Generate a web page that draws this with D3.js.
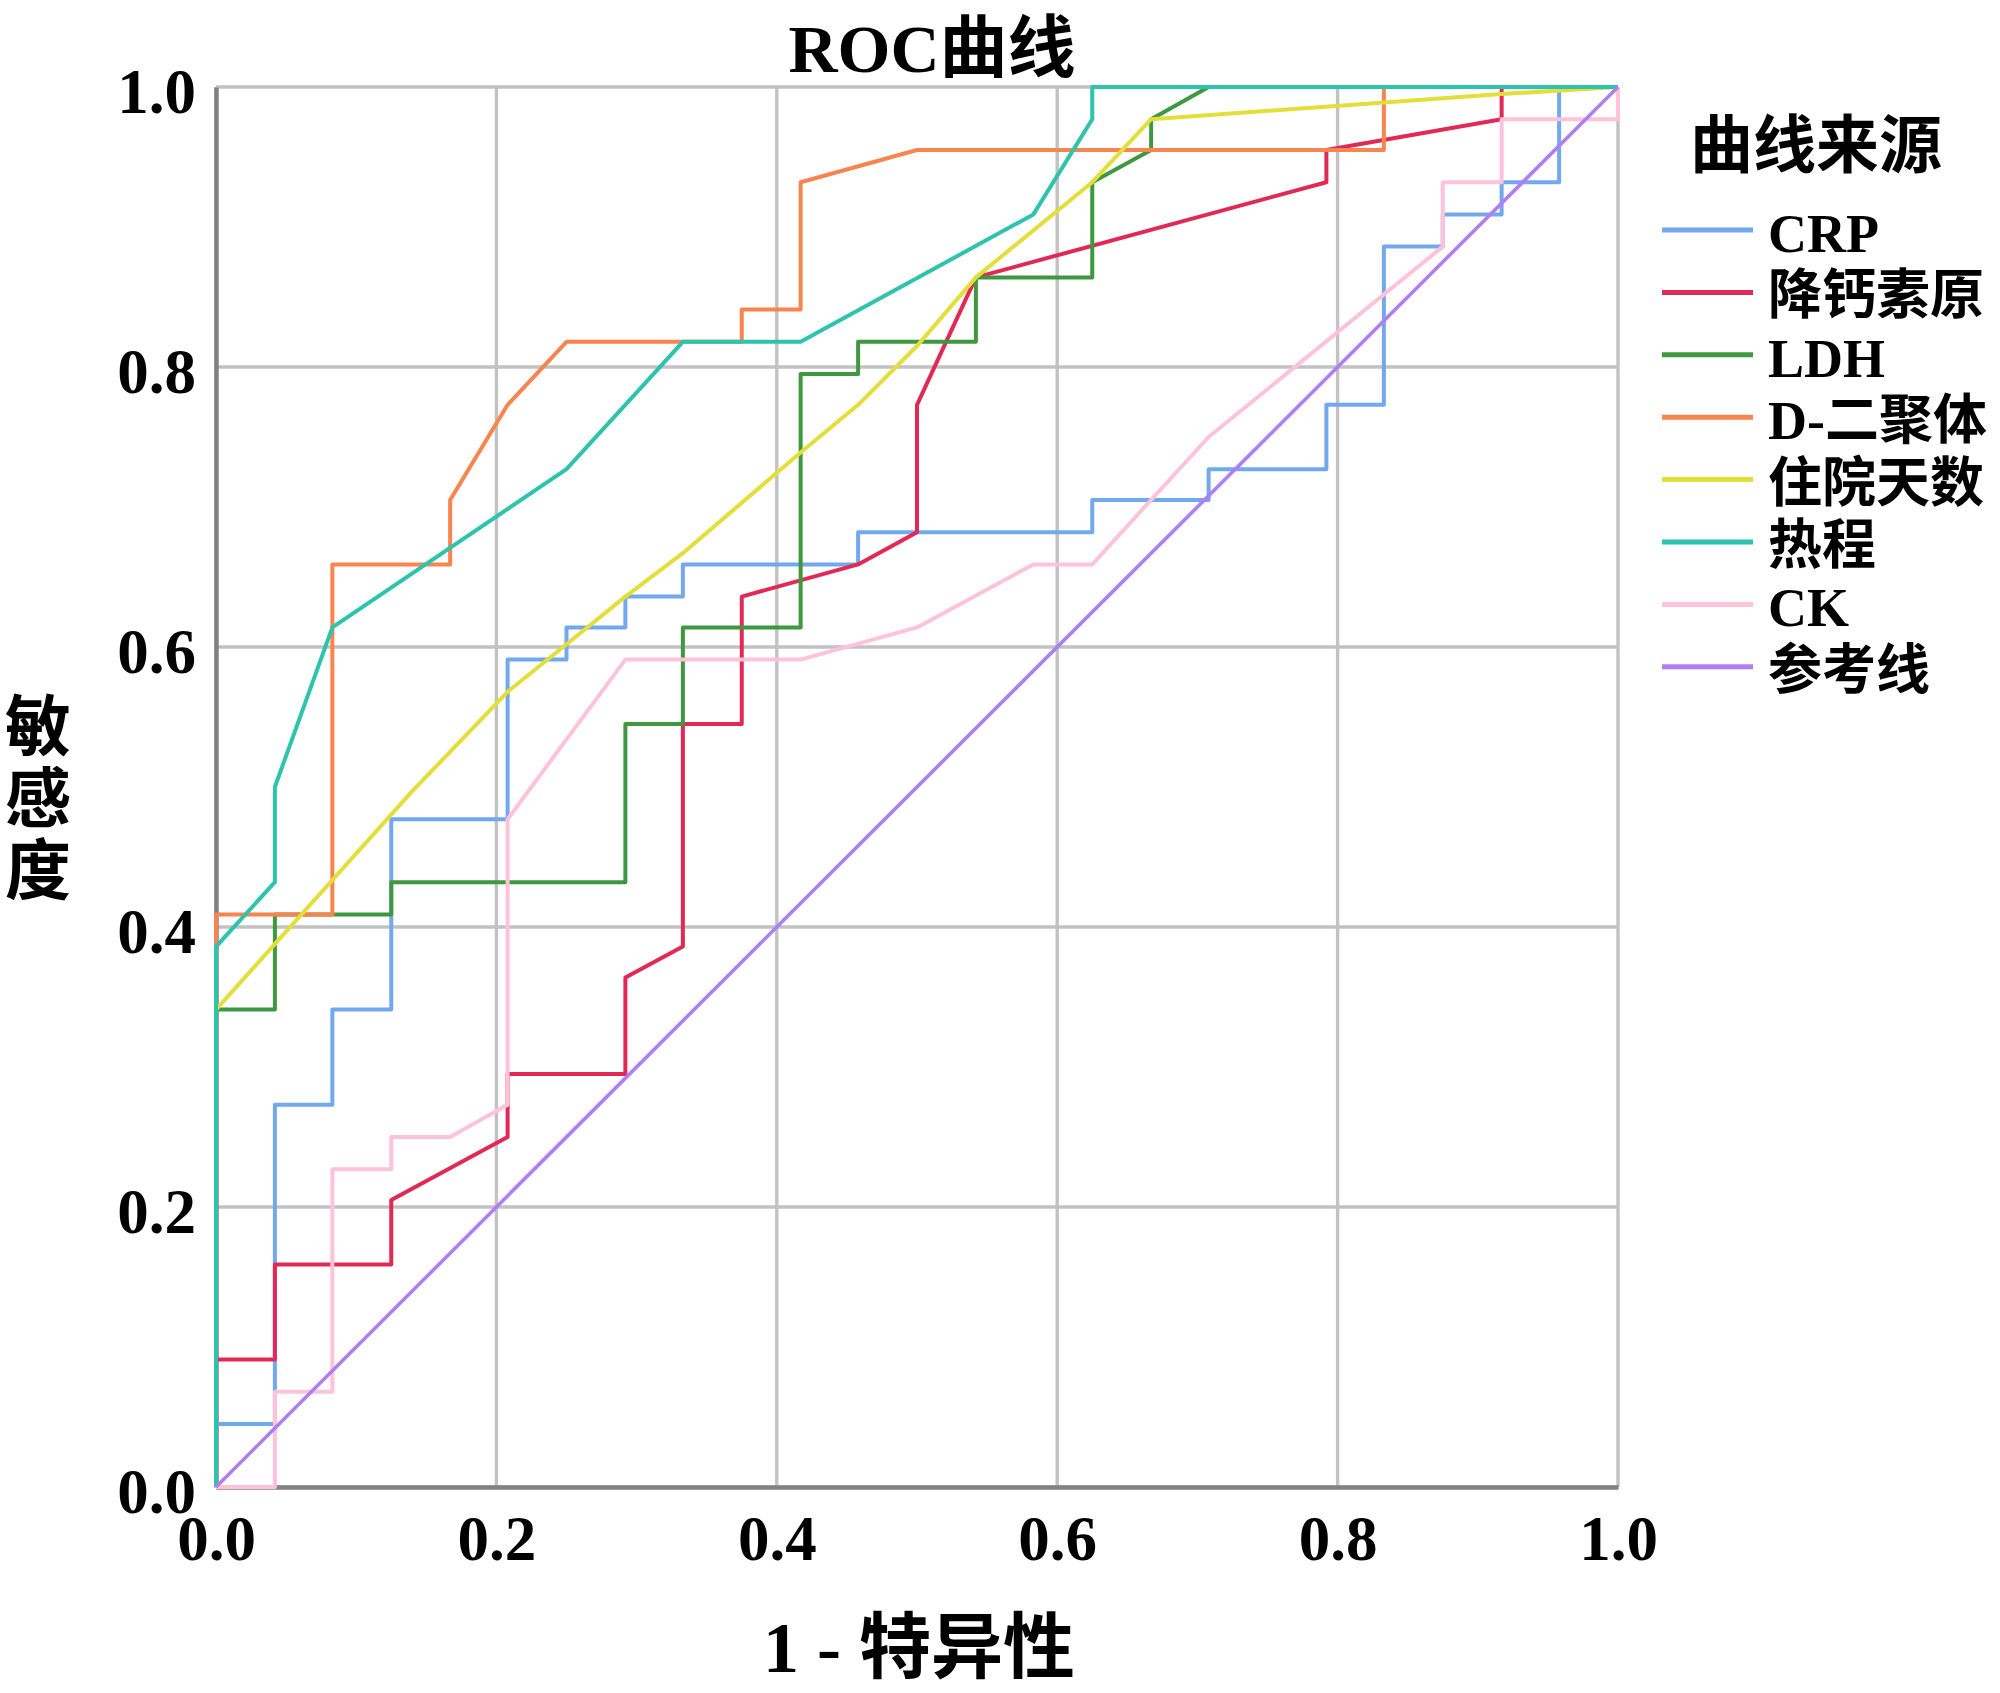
<!DOCTYPE html>
<html>
<head>
<meta charset="utf-8">
<script src="https://cdn.jsdelivr.net/npm/d3@7/dist/d3.min.js"></script>
<style>
  html, body { margin: 0; padding: 0; background: #fff; }
  svg { display: block; }
  text { font-family: 'Liberation Serif', 'Times New Roman', 'Noto Sans CJK SC', serif; font-weight: bold; fill: #000; }
</style>
</head>
<body>
<script>
// ---------------- data (1 - specificity, sensitivity) ----------------
const seriesNames = ["CRP", "降钙素原", "LDH", "D-二聚体", "住院天数", "热程", "CK", "参考线"];
const seriesColors = ["#72a8ee", "#e02a55", "#3f983f", "#f8844f", "#e3de3a", "#2ec3ac", "#ffc3d9", "#b07ef4"];

const crpPoints = [[0,0],[0,0.045],[0.042,0.045],[0.042,0.273],[0.083,0.273],[0.083,0.341],[0.125,0.341],[0.125,0.477],[0.208,0.477],[0.208,0.591],[0.25,0.591],[0.25,0.614],[0.292,0.614],[0.292,0.636],[0.333,0.636],[0.333,0.659],[0.458,0.659],[0.458,0.682],[0.625,0.682],[0.625,0.705],[0.708,0.705],[0.708,0.727],[0.792,0.727],[0.792,0.773],[0.833,0.773],[0.833,0.886],[0.875,0.886],[0.875,0.909],[0.917,0.909],[0.917,0.932],[0.958,0.932],[0.958,1],[1,1]];
const pctPoints = [[0,0],[0,0.091],[0.042,0.091],[0.042,0.159],[0.125,0.159],[0.125,0.205],[0.208,0.25],[0.208,0.295],[0.292,0.295],[0.292,0.364],[0.333,0.386],[0.333,0.545],[0.375,0.545],[0.375,0.636],[0.458,0.659],[0.5,0.682],[0.5,0.773],[0.542,0.864],[0.792,0.932],[0.792,0.955],[0.917,0.977],[0.917,1],[1,1]];
const ldhPoints = [[0,0],[0,0.341],[0.042,0.341],[0.042,0.409],[0.125,0.409],[0.125,0.432],[0.292,0.432],[0.292,0.545],[0.333,0.545],[0.333,0.614],[0.417,0.614],[0.417,0.795],[0.458,0.795],[0.458,0.818],[0.542,0.818],[0.542,0.864],[0.625,0.864],[0.625,0.932],[0.667,0.955],[0.667,0.977],[0.708,1],[1,1]];
const ddimerPoints = [[0,0],[0,0.409],[0.083,0.409],[0.083,0.659],[0.167,0.659],[0.167,0.705],[0.208,0.773],[0.25,0.818],[0.375,0.818],[0.375,0.841],[0.417,0.841],[0.417,0.932],[0.5,0.955],[0.833,0.955],[0.833,1],[1,1]];
const staysPoints = [[0,0.341],[0.14,0.497],[0.208,0.568],[0.25,0.602],[0.292,0.636],[0.333,0.667],[0.417,0.739],[0.458,0.773],[0.5,0.815],[0.542,0.864],[0.625,0.932],[0.667,0.977],[0.917,0.995],[1,1]];
const feverPoints = [[0,0],[0,0.386],[0.042,0.432],[0.042,0.5],[0.083,0.614],[0.25,0.727],[0.333,0.818],[0.417,0.818],[0.583,0.909],[0.625,0.977],[0.625,1],[1,1]];
const ckPoints = [[0,0],[0.042,0],[0.042,0.068],[0.083,0.068],[0.083,0.227],[0.125,0.227],[0.125,0.25],[0.167,0.25],[0.208,0.273],[0.208,0.477],[0.292,0.591],[0.417,0.591],[0.5,0.614],[0.583,0.659],[0.625,0.659],[0.708,0.75],[0.875,0.886],[0.875,0.932],[0.917,0.932],[0.917,0.977],[1,0.977],[1,1]];
const refPoints = [[0,0],[1,1]];

const xTicks = [0, 0.2, 0.4, 0.6, 0.8, 1.0];
const yTicks = [0, 0.2, 0.4, 0.6, 0.8, 1.0];

const chartTitle = "ROC曲线";
const xTitle = "1 - 特异性";
const yTitle = ["敏", "感", "度"];
const legendTitle = "曲线来源";

// ---------------- drawing ----------------
const W = 2000, H = 1693;
const L = 216, R = 1618, T = 87, B = 1487;

const allSeries = [crpPoints, pctPoints, ldhPoints, ddimerPoints, staysPoints, feverPoints, ckPoints, refPoints];

const svg = d3.select("body").append("svg").attr("width", W).attr("height", H);
svg.append("rect").attr("width", W).attr("height", H).attr("fill", "#fff");

const x = d3.scaleLinear().domain([0, 1]).range([L, R]);
const y = d3.scaleLinear().domain([0, 1]).range([B, T]);
const fmt = d3.format(".1f");

// gridlines
const gridColor = "#c2c2c2";
svg.append("g").selectAll("line").data(xTicks).join("line")
  .attr("x1", d => x(d)).attr("x2", d => x(d)).attr("y1", T).attr("y2", B)
  .attr("stroke", gridColor).attr("stroke-width", 3.4);
svg.append("g").selectAll("line").data(yTicks).join("line")
  .attr("x1", L).attr("x2", R).attr("y1", d => y(d)).attr("y2", d => y(d))
  .attr("stroke", gridColor).attr("stroke-width", 3.4);

// axes (left & bottom, darker)
const xAxis = svg.append("g").attr("transform", `translate(0,${B})`)
  .call(d3.axisBottom(x).tickValues(xTicks).tickFormat(fmt).tickSize(0).tickPadding(28));
const yAxis = svg.append("g").attr("transform", `translate(${L},0)`)
  .call(d3.axisLeft(y).tickValues(yTicks).tickFormat(fmt).tickSize(0).tickPadding(20));
[xAxis, yAxis].forEach(a => {
  a.select(".domain").attr("stroke", "#828282").attr("stroke-width", 4.5);
  a.selectAll("text").attr("font-size", 63).attr("font-family", null).attr("fill", "#000");
});
yAxis.selectAll("text").attr("dy", "0.40em");
xAxis.selectAll("text").attr("dy", "0.72em");

// curves
const line = d3.line().x(d => x(d[0])).y(d => y(d[1]));
svg.append("g").selectAll("path").data(allSeries).join("path")
  .attr("d", line)
  .attr("fill", "none")
  .attr("stroke", (d, i) => seriesColors[i])
  .attr("stroke-width", (d, i) => i === 7 ? 3.6 : 4)
  .attr("stroke-linejoin", "round");

// title
svg.append("text").attr("x", 932).attr("y", 72).attr("text-anchor", "middle")
  .attr("font-size", 68).text(chartTitle);

// x title
svg.append("text").attr("x", 919).attr("y", 1672).attr("text-anchor", "middle")
  .attr("font-size", 72).text(xTitle);

// y title (stacked)
svg.append("g").selectAll("text").data(yTitle).join("text")
  .attr("x", 38).attr("y", (d, i) => 727 + i * 72)
  .attr("text-anchor", "middle").attr("dominant-baseline", "central")
  .attr("font-size", 66).text(d => d);

// legend
svg.append("text").attr("x", 1690).attr("y", 146).attr("dominant-baseline", "central")
  .attr("font-size", 63).text(legendTitle);
const leg = svg.append("g").selectAll("g").data(seriesNames).join("g")
  .attr("transform", (d, i) => `translate(0,${230 + i * 62.4})`);
leg.append("line").attr("x1", 1662).attr("x2", 1753).attr("y1", 0).attr("y2", 0)
  .attr("stroke", (d, i) => seriesColors[i]).attr("stroke-width", 5);
leg.append("text").attr("x", 1768).attr("y", 4).attr("dominant-baseline", "central")
  .attr("font-size", 54).text(d => d);
</script>
</body>
</html>
